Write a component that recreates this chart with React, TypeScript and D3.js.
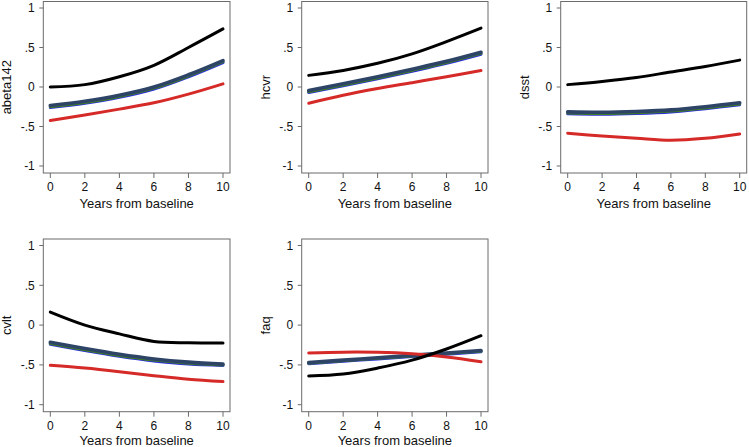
import React from "react";
import * as d3 from "d3";

const years = [0, 2, 4, 6, 8, 10];
const xTicks = [0, 2, 4, 6, 8, 10];
const yTicks = [-1, -0.5, 0, 0.5, 1];
const yTickLabels = ["-1", "-.5", "0", ".5", "1"];
const xTitle = "Years from baseline";
const panelNames = ["abeta142", "hcvr", "dsst", "cvlt", "faq"];

// abeta142
const abetaBlack = [0.0, 0.03, 0.13, 0.275, 0.5, 0.735];
const abetaNavy = [-0.235, -0.18, -0.105, 0.0, 0.155, 0.335];
const abetaGreen = [-0.25, -0.195, -0.12, -0.015, 0.14, 0.32];
const abetaBlue = [-0.26, -0.205, -0.13, -0.025, 0.13, 0.31];
const abetaRed = [-0.425, -0.355, -0.28, -0.2, -0.09, 0.04];
// hcvr
const hcvrBlack = [0.147, 0.21, 0.3, 0.42, 0.575, 0.745];
const hcvrNavy = [-0.045, 0.04, 0.13, 0.225, 0.325, 0.44];
const hcvrGreen = [-0.06, 0.025, 0.115, 0.21, 0.31, 0.425];
const hcvrBlue = [-0.07, 0.015, 0.105, 0.2, 0.3, 0.415];
const hcvrRed = [-0.205, -0.105, -0.02, 0.055, 0.13, 0.21];
// dsst
const dsstBlack = [0.03, 0.07, 0.12, 0.19, 0.26, 0.34];
const dsstNavy = [-0.315, -0.32, -0.31, -0.29, -0.25, -0.2];
const dsstGreen = [-0.33, -0.335, -0.325, -0.305, -0.265, -0.215];
const dsstBlue = [-0.34, -0.345, -0.335, -0.315, -0.275, -0.225];
const dsstRed = [-0.585, -0.62, -0.65, -0.675, -0.65, -0.595];
// cvlt
const cvltBlack = [0.163, 0.0, -0.11, -0.205, -0.222, -0.225];
const cvltNavy = [-0.215, -0.295, -0.367, -0.425, -0.465, -0.49];
const cvltGreen = [-0.23, -0.31, -0.382, -0.44, -0.48, -0.5];
const cvltBlue = [-0.24, -0.32, -0.392, -0.45, -0.49, -0.508];
const cvltRed = [-0.505, -0.54, -0.585, -0.635, -0.68, -0.71];
// faq
const faqBlack = [-0.64, -0.615, -0.54, -0.44, -0.3, -0.133];
const faqNavy = [-0.47, -0.44, -0.41, -0.38, -0.35, -0.32];
const faqGreen = [-0.478, -0.448, -0.418, -0.388, -0.358, -0.328];
const faqBlue = [-0.485, -0.455, -0.425, -0.395, -0.365, -0.335];
const faqRed = [-0.35, -0.34, -0.342, -0.36, -0.4, -0.46];

const seriesColors = { blue: "#2b2be0", green: "#3e7f22", navy: "#2e4466", red: "#d52a27", black: "#000000" };

const panelData = [
  { blue: abetaBlue, green: abetaGreen, navy: abetaNavy, red: abetaRed, black: abetaBlack },
  { blue: hcvrBlue, green: hcvrGreen, navy: hcvrNavy, red: hcvrRed, black: hcvrBlack },
  { blue: dsstBlue, green: dsstGreen, navy: dsstNavy, red: dsstRed, black: dsstBlack },
  { blue: cvltBlue, green: cvltGreen, navy: cvltNavy, red: cvltRed, black: cvltBlack },
  { blue: faqBlue, green: faqGreen, navy: faqNavy, red: faqRed, black: faqBlack },
];

const rows = [
  { top: 1.5, bottom: 173 },
  { top: 239, bottom: 411.7 },
];
const cols = [
  { left: 43.3, right: 230 },
  { left: 301.7, right: 488 },
  { left: 560.7, right: 746.7 },
];

const font = "'Liberation Sans', Arial, sans-serif";

function Panel({ idx }: { idx: number }) {
  const r = rows[Math.floor(idx / 3)];
  const c = cols[idx % 3];
  const x = d3.scaleLinear().domain([0, 10]).range([c.left + 7, c.right - 7]);
  const y = d3.scaleLinear().domain([-1, 1]).range([r.bottom - 7, r.top + 6.5]);
  const line = d3
    .line<number>()
    .x((_, i) => x(years[i]))
    .y((v) => y(v))
    .curve(d3.curveCatmullRom.alpha(0.5));
  const data = panelData[idx] as any;
  const order: { key: string; w: number }[] = [
    { key: "blue", w: 3 },
    { key: "green", w: 3 },
    { key: "navy", w: 3.6 },
    { key: "red", w: 3 },
    { key: "black", w: 3 },
  ];
  const midY = (r.top + r.bottom) / 2;
  const yTitleX = c.left - 32;
  const xTitleY = Math.min(r.bottom + 35.3, 444.5);
  return (
    <g>
      <rect
        x={c.left}
        y={r.top}
        width={c.right - c.left}
        height={r.bottom - r.top}
        fill="white"
        stroke="#6b6b6b"
        strokeWidth={1}
      />
      {order.map((o) => (
        <path
          key={o.key}
          d={line(data[o.key]) || ""}
          fill="none"
          stroke={(seriesColors as any)[o.key]}
          strokeWidth={o.w}
          strokeLinecap="round"
        />
      ))}
      {yTicks.map((t, i) => (
        <g key={"y" + i}>
          <line x1={c.left - 4} x2={c.left} y1={y(t)} y2={y(t)} stroke="#6b6b6b" strokeWidth={1} />
          <text
            x={c.left - 8.5}
            y={y(t)}
            dy="0.35em"
            textAnchor="end"
            fontSize={12}
            fontFamily={font}
            fill="#111"
          >
            {yTickLabels[i]}
          </text>
        </g>
      ))}
      {xTicks.map((t, i) => (
        <g key={"x" + i}>
          <line x1={x(t)} x2={x(t)} y1={r.bottom} y2={r.bottom + 5} stroke="#6b6b6b" strokeWidth={1} />
          <text
            x={x(t)}
            y={r.bottom + 18}
            textAnchor="middle"
            fontSize={12}
            fontFamily={font}
            fill="#111"
          >
            {t}
          </text>
        </g>
      ))}
      <text
        x={(c.left + c.right) / 2}
        y={xTitleY}
        textAnchor="middle"
        fontSize={13}
        fontFamily={font}
        fill="#111"
      >
        {xTitle}
      </text>
      <text
        transform={`translate(${yTitleX},${midY}) rotate(-90)`}
        textAnchor="middle"
        fontSize={13}
        fontFamily={font}
        fill="#111"
      >
        {panelNames[idx]}
      </text>
    </g>
  );
}

export default function App() {
  return (
    <svg
      width={749}
      height={447}
      style={{ position: "absolute", left: 0, top: 0, background: "white" }}
    >
      <rect x={0} y={0} width={749} height={447} fill="white" />
      {panelNames.map((_, i) => (
        <Panel key={i} idx={i} />
      ))}
    </svg>
  );
}
